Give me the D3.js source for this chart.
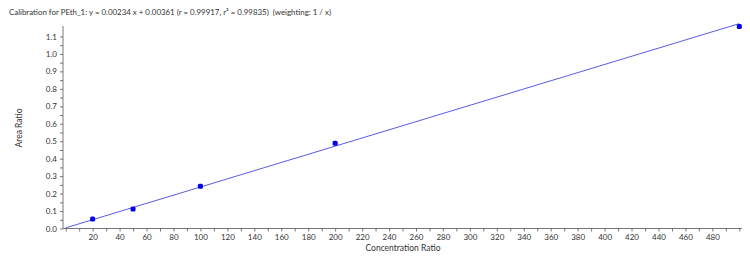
<!DOCTYPE html>
<html>
<head>
<meta charset="utf-8">
<script src="https://cdn.jsdelivr.net/npm/d3@7"></script>
<style>
  body { margin: 0; background: #fff; }
  text { font-family: Lato, "Open Sans", sans-serif; fill: #333; white-space: pre; }
</style>
</head>
<body>
<script>
// calibration standards
var concentrations = [20, 50, 100, 200, 500];
var areaRatios = [0.055, 0.111, 0.242, 0.488, 1.157];

// fit line  y = slope * x + intercept
var slope = 0.00234;
var intercept = 0.00361;
var fitRange = [0, 500];

var xTickLabels = d3.range(20, 481, 20);
var yTickLabels = d3.range(0, 1.11, 0.1);

var title = "Calibration for PEth_1: y = 0.00234 x + 0.00361 (r = 0.99917, r\u00b2 = 0.99835)  (weighting: 1 / x)";

var width = 750;
var height = 256;

var svg = d3.select("body")
	.append("svg")
		.attr("width", width)
		.attr("height", height);

var x = d3.scaleLinear()
	.domain([-2, 502])
	.range([63, 742]);

var y = d3.scaleLinear()
	.domain([0, 1.16])
	.range([228.5, 26]);

// title
svg.append("text")
	.attr("x", 9)
	.attr("y", 15)
	.attr("font-size", "7.9px")
	.text(title);

// x axis: minor ticks every 10, labels every 20
var xAxis = d3.axisBottom(x)
	.tickValues(d3.range(0, 501, 10))
	.tickSize(3)
	.tickFormat((d) => { return xTickLabels.indexOf(d) >= 0 ? d : ""; });

var gx = svg.append("g")
	.attr("transform", "translate(0," + y(0) + ")")
	.call(xAxis);
gx.select(".domain").attr("d", "M" + x.range()[0] + ",0H" + x.range()[1]);

// y axis: minor ticks every 0.05
var yAxis = d3.axisLeft(y)
	.tickValues(d3.range(0, 23).map((i) => i * 0.05))
	.tickSize(3)
	.tickFormat((d, i) => { return i % 2 == 0 ? d3.format(".1f")(yTickLabels[i / 2]) : ""; });

var gy = svg.append("g")
	.attr("transform", "translate(" + x.range()[0] + ",0)")
	.call(yAxis);
gy.select(".domain").attr("d", "M0," + y.range()[0] + "V" + y.range()[1]);

[gx, gy].forEach((g) => {
	g.selectAll(".domain, line").attr("stroke", "#555").attr("stroke-width", 0.8);
	g.selectAll("text").attr("font-size", "8px").attr("fill", "#444")
		.style("font-family", "Lato, 'Open Sans', sans-serif");
});
gx.selectAll("text").attr("y", 5).attr("dy", "0.75em");

// axis titles
svg.append("text")
	.attr("x", 403)
	.attr("y", 251)
	.attr("font-size", "8.5px")
	.attr("text-anchor", "middle")
	.text("Concentration Ratio");

svg.append("text")
	.attr("transform", "translate(22," + 128 + ") rotate(-90)")
	.attr("font-size", "8.5px")
	.attr("text-anchor", "middle")
	.text("Area Ratio");

// fit line
svg.append("line")
	.attr("x1", x(fitRange[0]))
	.attr("y1", y(slope * fitRange[0] + intercept))
	.attr("x2", x(fitRange[1]))
	.attr("y2", y(slope * fitRange[1] + intercept))
	.attr("stroke", "#5a5ae6")
	.attr("stroke-width", 1);

// standards
svg.selectAll("rect.pt")
	.data(concentrations)
	.enter()
	.append("rect")
		.attr("class", "pt")
		.attr("x", (d) => x(d) - 2.5)
		.attr("y", (d, i) => y(areaRatios[i]) - 2.5)
		.attr("width", 5)
		.attr("height", 5)
		.attr("rx", 1.5)
		.attr("fill", "#0000ee");
</script>
</body>
</html>
